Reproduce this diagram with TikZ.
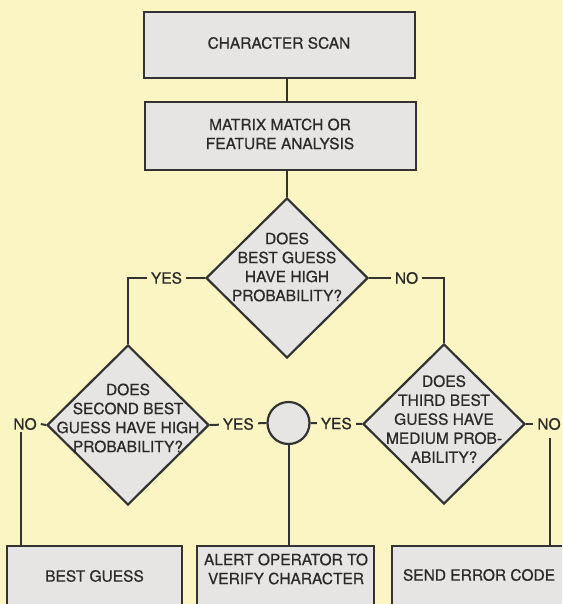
\documentclass[tikz,border=0pt]{standalone}
\usepackage{fontspec}
\setmainfont{TeX Gyre Heros}
\newfontfamily\inkfont{TeX Gyre Heros}[FakeBold=0.6]
\usetikzlibrary{shapes.geometric}
\definecolor{bg}{HTML}{FAF5C3}
\definecolor{boxfill}{HTML}{E7E5E3}
\definecolor{ink}{HTML}{333333}
\definecolor{txt}{HTML}{2A2A2A}
\begin{document}
\begin{tikzpicture}[x=1pt,y=-1pt,
  shp/.style={draw=ink, line width=2.2pt, fill=boxfill},
  proc/.style={shp, rectangle, inner sep=0pt},
  dec/.style={shp, diamond, minimum width=162pt, minimum height=160pt, inner sep=0pt},
  tx/.style={text=txt, align=center, inner sep=0pt, font=\inkfont\fontsize{15.5}{19}\selectfont},
  conn/.style={draw=ink, line width=2pt},
  lbl/.style={tx, fill=bg, inner xsep=4pt, inner ysep=2pt}
]
\useasboundingbox (0,0) rectangle (562,604);
\fill[bg] (0,0) rectangle (562,604);
\begin{scope}
\clip (0,0) rectangle (562,604);
% process boxes
\node[proc, minimum width=271pt, minimum height=66pt] (b1) at (279.5,45) {};
\node[proc, minimum width=271pt, minimum height=68pt] (b2) at (280.5,136) {};
\node[tx] (t1) at (279,43) {CHARACTER SCAN};
\node[tx] (t2) at (280,134) {MATRIX MATCH OR\\FEATURE ANALYSIS};
% decisions
\node[dec] (d1) at (287,278) {};
\node[tx] (d1t) at (287,267) {DOES\\BEST GUESS\\HAVE HIGH\\PROBABILITY?};
\node[dec] (d2) at (128,425) {};
\node[tx] (d2t) at (128,418) {DOES\\SECOND BEST\\GUESS HAVE HIGH\\PROBABILITY?};
\node[dec] (d3) at (444,424) {};
\node[tx] (d3t) at (444,419) {DOES\\THIRD BEST\\GUESS HAVE\\MEDIUM PROB-\\ABILITY?};
% junction circle
\node[shp, circle, minimum size=42pt, inner sep=0pt] (c) at (288.5,423) {};
% bottom boxes
\node[proc, minimum width=175pt, minimum height=74pt] (bb1) at (94.5,583) {};
\node[proc, minimum width=177pt, minimum height=74pt] (bb2) at (285.5,583) {};
\node[proc, minimum width=174pt, minimum height=74pt] (bb3) at (479,583) {};
\node[tx] (bt1) at (94.5,576) {BEST GUESS};
\node[tx] (bt2) at (286,569) {ALERT OPERATOR TO\\VERIFY CHARACTER};
\node[tx] (bt3) at (479,575) {SEND ERROR CODE};
% connectors
\draw[conn] (d1.north |- b1.south) -- (d1.north |- b2.north);
\draw[conn] (d1.north |- b2.south) -- (d1.north);
\draw[conn] (d1.west) -- node[lbl]{YES} (d1.west -| d2.north) -- (d2.north);
\draw[conn] (d1.east) -- node[lbl]{NO} (d1.east -| d3.north) -- (d3.north);
\draw[conn] (d2.east) -- node[lbl]{YES} (c.west);
\draw[conn] (c.east) -- node[lbl]{YES} (d3.west);
\draw[conn] (c.south) -- (c.south |- bb2.north);
\node[lbl] (noL) at (25,424) {NO};
\node[lbl] (noR) at (549,424) {NO};
\coordinate (noLb) at ([xshift=-4pt]noL.south);
\coordinate (noRb) at ([xshift=1pt, yshift=-6pt]noR.south);
\draw[conn] (d2.west) -- (noL.east);
\draw[conn] (d3.east) -- (noR.west);
\draw[conn] (noLb) -- (noLb |- bb1.north);
\draw[conn] (noRb) -- (noRb |- bb3.north);
\end{scope}
\end{tikzpicture}
\end{document}
